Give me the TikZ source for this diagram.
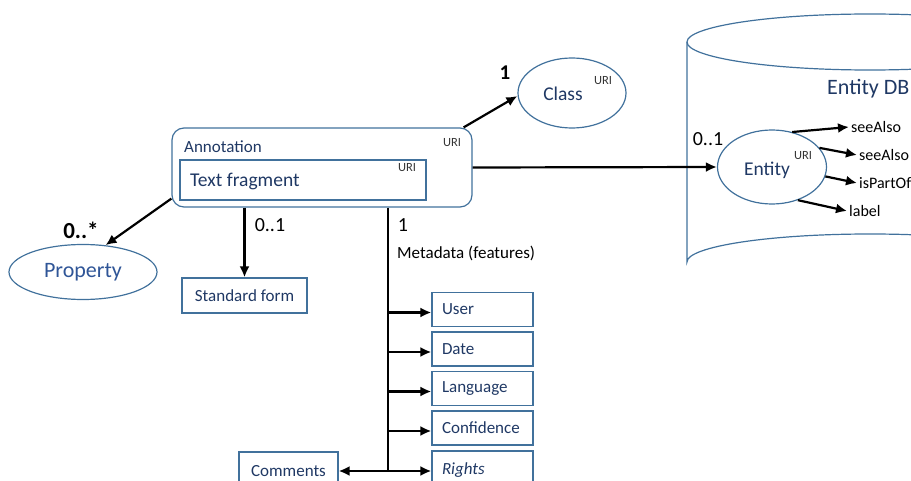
\documentclass[tikz,border=0pt]{standalone}
\usepackage{fontspec}
\setmainfont{Carlito}
\usetikzlibrary{shapes.geometric,arrows.meta}
\definecolor{bord}{HTML}{41719C}
\definecolor{navy}{HTML}{1F3864}
\definecolor{propblue}{HTML}{2F5597}
\newcommand{\fs}[1]{\fontsize{#1}{#1}\selectfont}
\begin{document}
\begin{tikzpicture}[x=1pt,y=-1pt,
  box/.style={draw=bord,line width=1.2pt,text=navy,inner sep=0pt,font=\fs{17}},
  ell/.style={ellipse,draw=bord,line width=1.2pt,text=navy,inner sep=0pt},
  metabox/.style={box,minimum height=34pt,text width=81pt,inner xsep=10pt,align=left},
  lbl/.style={inner sep=0pt,font=\fs{17}},
  uri/.style={inner sep=0pt,font=\fs{12.5},text=black!80},
  arr/.style={-{Latex[length=11pt,width=10pt]},line width=2.2pt},
  trunk/.style={line width=2.2pt}]
\useasboundingbox (0,0) rectangle (911,481);
\begin{scope}
\clip (0,0) rectangle (911,481);
% Entity DB cylinder
\draw[bord,line width=1.2pt] (870,42) ellipse [x radius=183,y radius=28];
\draw[bord,line width=1.2pt] (687,42) -- (687,262)
  arc[start angle=180,end angle=360,x radius=183,y radius=28];
\node[lbl,anchor=west,font=\fs{22},text=navy] (edb) at (827,89) {Entity DB};

% Annotation
\node[box,rounded corners=12pt,minimum width=300pt,minimum height=79pt] (ann) at (322,167.5) {};
\node[lbl,anchor=west,text=navy] (annt) at (184,147) {Annotation};
\node[uri] (annuri) at (452,143) {URI};
\node[box,minimum width=246pt,minimum height=40pt] (tf) at (303,180) {};
\node[lbl,anchor=west,text=navy,font=\fs{19.5}] (tft) at (190,181) {Text fragment};
\node[uri] (tfuri) at (407,168) {URI};

% Class
\node[ell,minimum width=108pt,minimum height=70pt] (class) at (572,93) {};
\node[lbl,text=navy,font=\fs{19.5}] (classt) at (563,94) {Class};
\node[uri] (classuri) at (603,81) {URI};
\node[lbl,font=\bfseries\fs{21}] (one1) at (505,73) {1};

% Entity
\node[ell,minimum width=109pt,minimum height=74pt] (ent) at (772,167) {};
\node[lbl,text=navy,font=\fs{19.5}] (entt) at (767,170) {Entity};
\node[uri] (enturi) at (803,156) {URI};
\node[lbl,font=\fs{20}] (zo1) at (708,139) {0..1};
\node[lbl,anchor=west,font=\fs{16}] (sa1) at (851,127) {seeAlso};
\node[lbl,anchor=west,font=\fs{16}] (sa2) at (859,155) {seeAlso};
\node[lbl,anchor=west,font=\fs{16}] (ipo) at (859,183) {isPartOf};
\node[lbl,anchor=west,font=\fs{16}] (lab) at (849,211) {label};
\draw[arr] (ent.60) -- ([xshift=-2pt]sa1.west);
\draw[arr] (ent.22) -- ([xshift=-2pt]sa2.west);
\draw[arr] (ent.-10) -- ([xshift=-2pt]ipo.west);
\draw[arr] (ent.-52) -- ([xshift=-2pt]lab.west);

% Property
\node[ell,minimum width=148pt,minimum height=55pt,text=propblue,font=\fs{22}] (prop) at (83,272) {Property};
\node[lbl,font=\bfseries\fs{23}] (zs) at (81,230) {0..*};

% Standard form
\node[box,minimum width=125pt,minimum height=35pt] (sf) at (244.5,295.5) {Standard form};
\node[lbl,font=\fs{20}] (zo2) at (270,225) {0..1};

% Metadata
\coordinate (mb) at (388,471);
\node[lbl,font=\fs{20}] (one2) at (403,225) {1};
\node[lbl,anchor=west] (md) at (397,253) {Metadata (features)};
\node[metabox] (user) at (482.5,309.5) {User};
\node[metabox] (date) at (482.5,349) {Date};
\node[metabox] (lang) at (482.5,388.5) {Language};
\node[metabox] (conf) at (482.5,428) {Confidence};
\node[metabox,minimum height=38pt] (rights) at (482.5,470) {\itshape Rights};
\node[box,minimum width=99pt,minimum height=38pt] (comm) at (288.5,471) {Comments};

% connectors
\draw[arr] ([xshift=-9pt]ann.north east) -- ([yshift=-3pt]class.west);
\draw[arr] (ann.east) -- (ent.west);
\draw[arr] ([yshift=9pt]ann.south west) -- (prop.50);
\draw[arr] (ann.south -| sf.north) -- (sf.north);
\draw[trunk] (ann.south -| mb) -- (mb);
\draw[arr] ([yshift=-3pt]user.west -| mb) -- ([yshift=-3pt]user.west);
\draw[arr] ([yshift=-3pt]date.west -| mb) -- ([yshift=-3pt]date.west);
\draw[arr] ([yshift=-3pt]lang.west -| mb) -- ([yshift=-3pt]lang.west);
\draw[arr] ([yshift=-3pt]conf.west -| mb) -- ([yshift=-3pt]conf.west);
\draw[arr] (mb) -- (mb -| rights.west);
\draw[arr] (mb) -- (comm.east);
\end{scope}
\end{tikzpicture}
\end{document}
